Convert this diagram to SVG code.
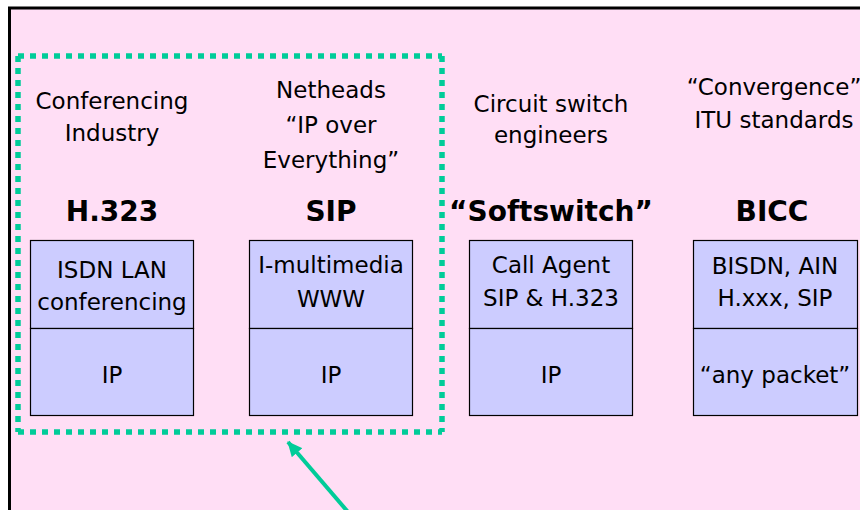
<svg xmlns="http://www.w3.org/2000/svg" width="860" height="510" viewBox="0 0 860 510">
  <style>
    .hdr { font-family: "DejaVu Sans", Verdana, sans-serif; font-size: 23px; fill: #000; text-anchor: middle; }
    .name { font-family: "DejaVu Sans", Verdana, sans-serif; font-size: 28px; font-weight: bold; fill: #000; text-anchor: middle; }
    .lbl { font-family: "DejaVu Sans", Verdana, sans-serif; font-size: 23px; fill: #000; text-anchor: middle; }
    .layer { fill: #CCCCFF; stroke: #000; stroke-width: 1.2; }
    .dots { fill: none; stroke: #00CC99; stroke-width: 5.5; stroke-dasharray: 6 6; }
    .pointer { stroke: #00CC99; stroke-width: 4; fill: none; }
  </style>
  <defs>
    <marker id="tip" markerUnits="userSpaceOnUse" markerWidth="16" markerHeight="14" refX="14" refY="7" orient="auto">
      <path d="M0,0 L15,7 L0,14 Z" fill="#00CC99"/>
    </marker>
  </defs>

  <!-- page -->
  <rect x="0" y="0" width="860" height="510" fill="#FFFFFF"/>
  <rect x="9.5" y="8" width="860" height="520" fill="#FFDEF5" stroke="#000" stroke-width="3"/>

  <!-- H.323 column -->
  <g id="h323">
    <text class="hdr" x="112" y="109">Conferencing</text>
    <text class="hdr" x="112" y="141">Industry</text>
    <text class="name" x="112" y="221">H.323</text>
    <rect class="layer" x="30.5" y="240.5" width="163" height="88"/>
    <rect class="layer" x="30.5" y="328.5" width="163" height="87"/>
    <text class="lbl" x="112" y="278">ISDN LAN</text>
    <text class="lbl" x="112" y="310">conferencing</text>
    <text class="lbl" x="112" y="383">IP</text>
  </g>

  <!-- SIP column -->
  <g id="sip">
    <text class="hdr" x="331" y="98">Netheads</text>
    <text class="hdr" x="331" y="133">“IP over</text>
    <text class="hdr" x="331" y="168">Everything”</text>
    <text class="name" x="331" y="221">SIP</text>
    <rect class="layer" x="249.5" y="240.5" width="163" height="88"/>
    <rect class="layer" x="249.5" y="328.5" width="163" height="87"/>
    <text class="lbl" x="331" y="273">I-multimedia</text>
    <text class="lbl" x="331" y="307">WWW</text>
    <text class="lbl" x="331" y="383">IP</text>
  </g>

  <!-- Softswitch column -->
  <g id="softswitch">
    <text class="hdr" x="551" y="112">Circuit switch</text>
    <text class="hdr" x="551" y="143">engineers</text>
    <text class="name" x="551" y="221">“Softswitch”</text>
    <rect class="layer" x="469.5" y="240.5" width="163" height="88"/>
    <rect class="layer" x="469.5" y="328.5" width="163" height="87"/>
    <text class="lbl" x="551" y="273">Call Agent</text>
    <text class="lbl" x="551" y="306">SIP &amp; H.323</text>
    <text class="lbl" x="551" y="383">IP</text>
  </g>

  <!-- BICC column -->
  <g id="bicc">
    <text class="hdr" x="774" y="95">“Convergence”</text>
    <text class="hdr" x="774" y="128">ITU standards</text>
    <text class="name" x="772" y="221">BICC</text>
    <rect class="layer" x="693.5" y="240.5" width="164" height="88"/>
    <rect class="layer" x="693.5" y="328.5" width="164" height="87"/>
    <text class="lbl" x="775" y="274">BISDN, AIN</text>
    <text class="lbl" x="775" y="306">H.xxx, SIP</text>
    <text class="lbl" x="775" y="383">“any packet”</text>
  </g>

  <!-- IP-based group outline -->
  <g id="ip-group">
    <path class="dots" d="M18,56 H442"/>
    <path class="dots" d="M18,432 H442"/>
    <path class="dots" d="M18,56 V432"/>
    <path class="dots" d="M442,56 V432"/>
  </g>

  <!-- connectors -->
  <g id="connectors">
    <line class="pointer" x1="348" y1="512" x2="288" y2="442" marker-end="url(#tip)"/>
  </g>
</svg>
